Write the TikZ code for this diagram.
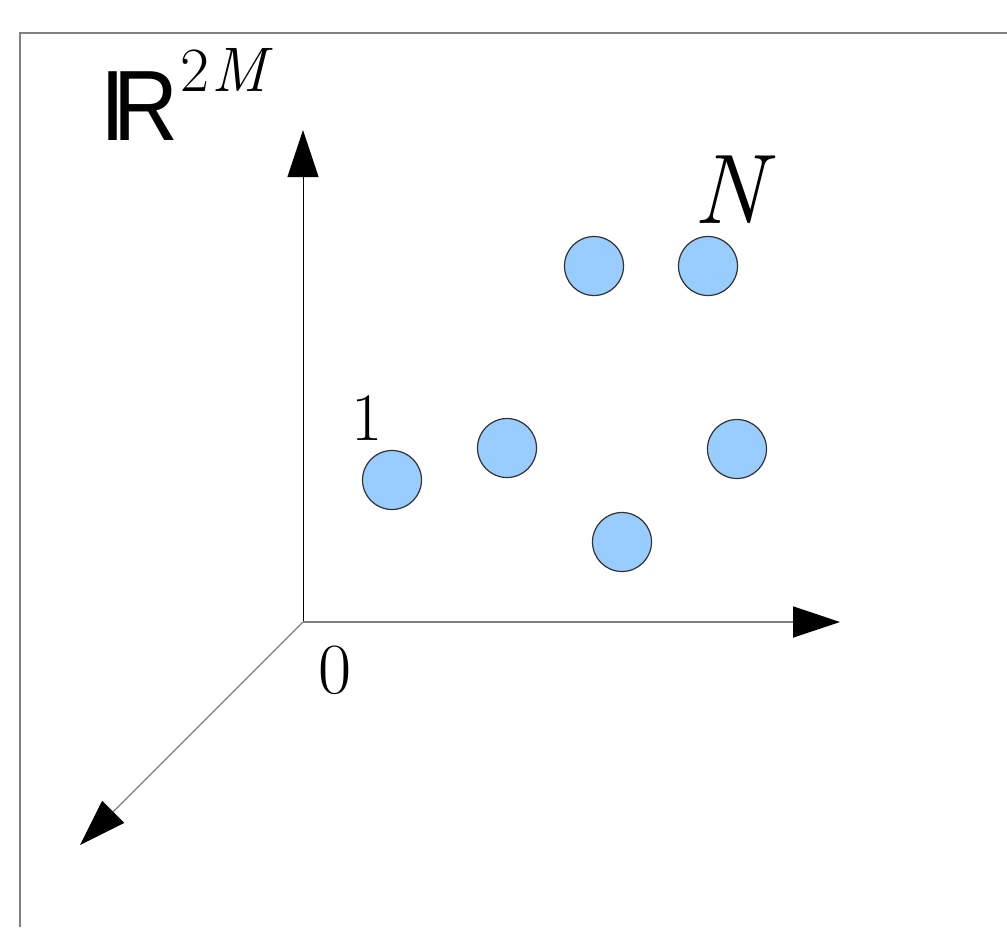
\documentclass[tikz,border=0pt]{standalone}
\usepackage{fontspec}
\newfontfamily\arialfont[FakeStretch=0.9]{Liberation Sans}
\usetikzlibrary{arrows.meta}
\definecolor{dotfill}{RGB}{153,204,255}
\definecolor{dotline}{RGB}{50,50,50}
\definecolor{framegray}{RGB}{128,128,128}
\tikzset{
  dot/.style={circle, draw=dotline, line width=1.2pt, fill=dotfill, minimum size=59pt, inner sep=0pt},
  axis/.style={-{Triangle[length=47pt,width=31pt,color=black,fill=black]}},
  lbl/.style={inner sep=0pt, anchor=base west},
  frameline/.style={draw=framegray, line width=1.5pt}
}
\begin{document}
\begin{tikzpicture}[x=1pt,y=-1pt]
\useasboundingbox (0,0) rectangle (1007,927);
% frame
\coordinate (fbl) at (20,927);
\coordinate (ftl) at (20,33);
\coordinate (ftr) at (1007,33);
\draw[frameline] (fbl) -- (ftl) -- (ftr);
% axes
\coordinate (O) at (303,622);
\coordinate (ytip) at (303,130);
\coordinate (xtip) at (840,622);
\coordinate (ztip) at (80,845);
\draw[axis, draw=black, line width=1pt] (O) -- (ytip);
\draw[axis, draw=framegray, line width=1.8pt] (O) -- (xtip);
\draw[axis, draw=framegray, line width=1.2pt] (O) -- (ztip);
% labels
\node[lbl] (R) at (100,140) {\arialfont\fontsize{100}{110}\selectfont I\kern-12pt R};
\node[lbl] (sup) at (180,91) {\fontsize{63}{70}\selectfont 2\kern2pt\itshape M};
\node[lbl] (N) at (693,223) {\fontsize{99}{110}\selectfont\itshape N};
\node[lbl] (one) at (351,440) {\fontsize{68}{74}\selectfont 1};
\node[lbl] (zero) at (318,693) {\fontsize{72}{80}\selectfont 0};
% points
\node[dot] (c1) at (392,480) {};
\node[dot] (c2) at (507,448) {};
\node[dot] (c3) at (594,266) {};
\node[dot] (c4) at (708,266) {};
\node[dot] (c5) at (737,449) {};
\node[dot] (c6) at (622,542) {};
\end{tikzpicture}
\end{document}
